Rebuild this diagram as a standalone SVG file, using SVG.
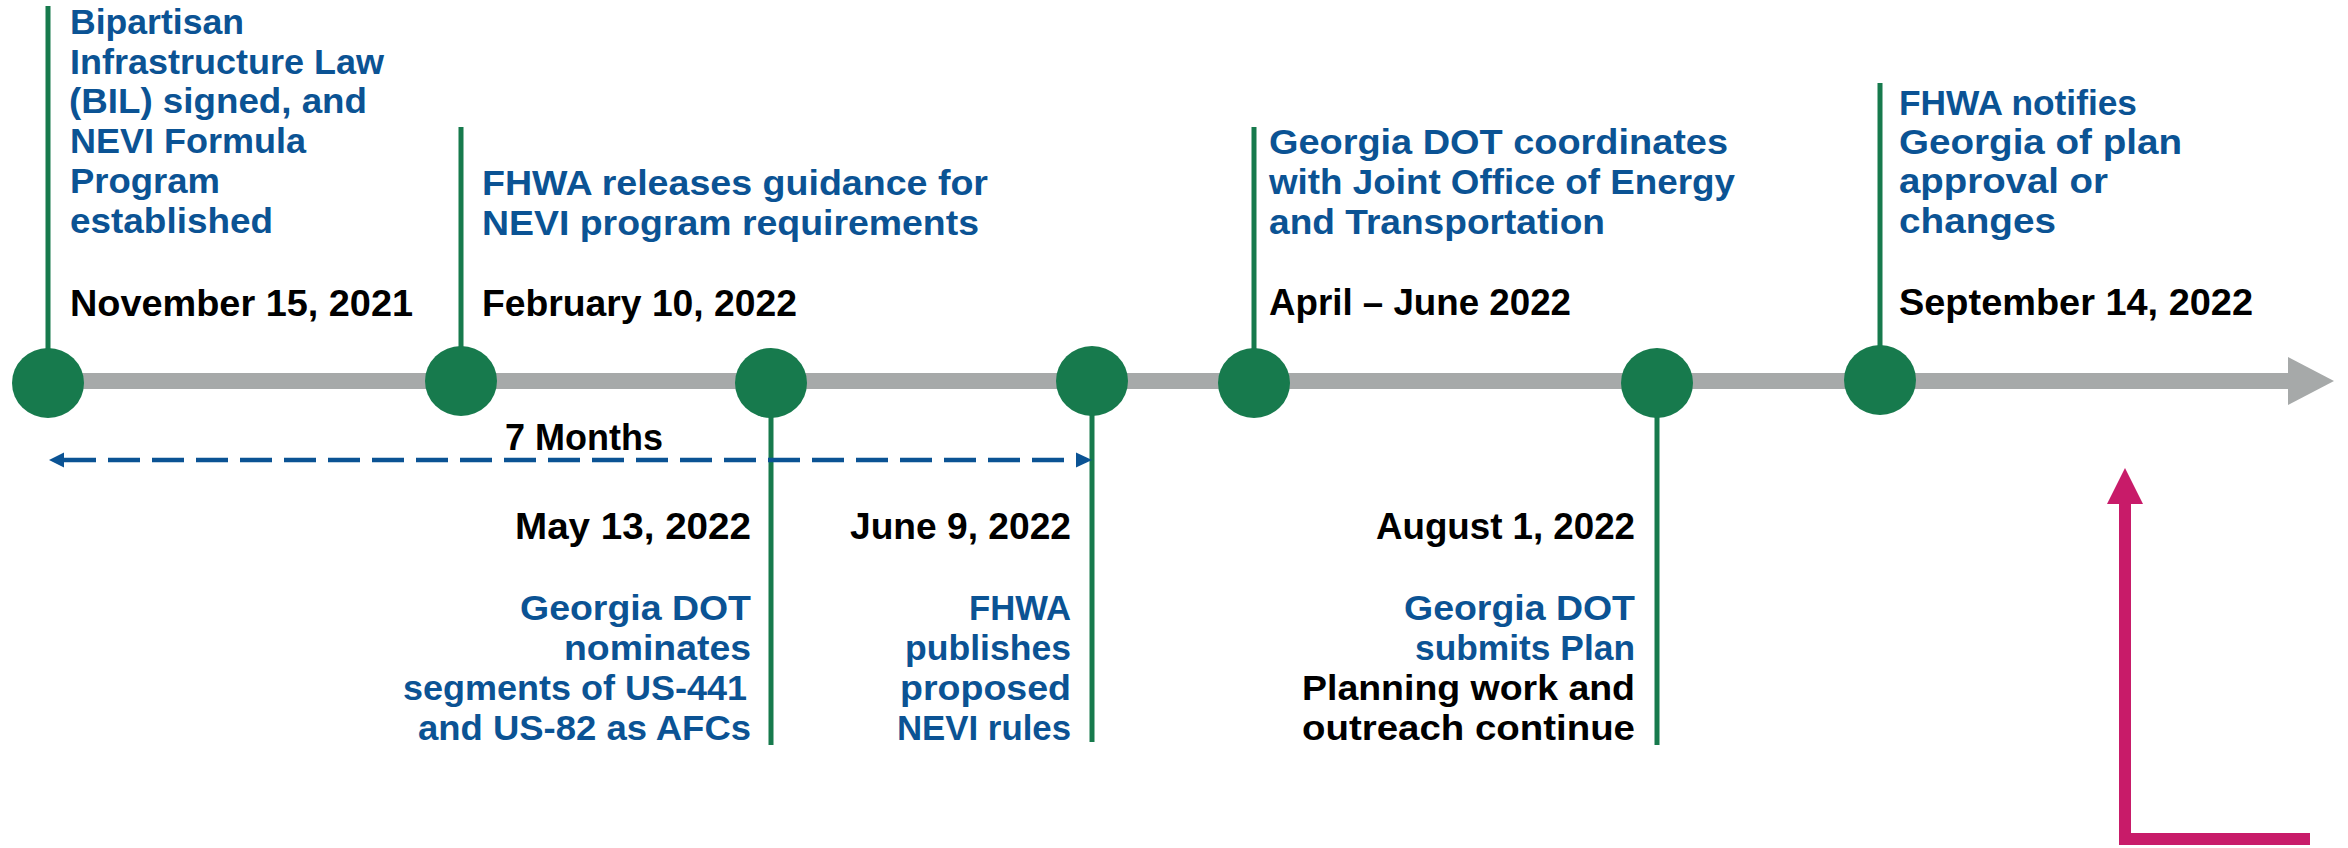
<svg xmlns="http://www.w3.org/2000/svg" width="2348" height="848" viewBox="0 0 2348 848">
<defs>
<style>
.t{font-family:"Liberation Sans",Arial,sans-serif;font-weight:bold;font-size:35px;fill:#0B5394}
.d{font-family:"Liberation Sans",Arial,sans-serif;font-weight:bold;font-size:37px;fill:#000}
.k{fill:#000}
.e{text-anchor:end}
.stem{stroke:#177A4D;stroke-width:5;fill:none}
.node{fill:#177A4D}
</style>
</defs>
<rect width="2348" height="848" fill="#fff"/>
<g id="connectors">
<rect x="48" y="373" width="2242" height="16" fill="#A6A9A9"/>
<polygon points="2288,357 2334,381 2288,405" fill="#A6A9A9"/>
<line class="stem" x1="48" y1="6" x2="48" y2="383"/>
<line class="stem" x1="461" y1="127" x2="461" y2="381"/>
<line class="stem" x1="771" y1="383" x2="771" y2="745"/>
<line class="stem" x1="1092" y1="381" x2="1092" y2="742"/>
<line class="stem" x1="1254" y1="127" x2="1254" y2="383"/>
<line class="stem" x1="1657" y1="383" x2="1657" y2="745"/>
<line class="stem" x1="1880" y1="83" x2="1880" y2="380"/>
<line x1="64" y1="460" x2="1078" y2="460" stroke="#0B5394" stroke-width="4.5" stroke-dasharray="32 12"/>
<polygon points="49,460 64,452.5 64,467.5" fill="#0B5394"/>
<polygon points="1092,460 1076,452.5 1076,467.5" fill="#0B5394"/>
<polyline points="2125,500 2125,839 2310,839" fill="none" stroke="#C81B69" stroke-width="12"/>
<polygon points="2125,468 2143,504 2107,504" fill="#C81B69"/>
</g>
<text class="d" x="505" y="450" textLength="158" lengthAdjust="spacingAndGlyphs">7 Months</text>
<g id="n1">
<ellipse class="node" cx="48" cy="383" rx="36" ry="35"/>
<text class="t" x="70" y="34" textLength="174" lengthAdjust="spacingAndGlyphs">Bipartisan</text>
<text class="t" x="70" y="74" textLength="314" lengthAdjust="spacingAndGlyphs">Infrastructure Law</text>
<text class="t" x="69" y="113" textLength="298" lengthAdjust="spacingAndGlyphs">(BIL) signed, and</text>
<text class="t" x="70" y="153" textLength="236" lengthAdjust="spacingAndGlyphs">NEVI Formula</text>
<text class="t" x="70" y="193" textLength="150" lengthAdjust="spacingAndGlyphs">Program</text>
<text class="t" x="70" y="233" textLength="203" lengthAdjust="spacingAndGlyphs">established</text>
<text class="d" x="70" y="316" textLength="343" lengthAdjust="spacingAndGlyphs">November 15, 2021</text>
</g>
<g id="n2">
<ellipse class="node" cx="461" cy="381" rx="36" ry="35"/>
<text class="t" x="482" y="195" textLength="506" lengthAdjust="spacingAndGlyphs">FHWA releases guidance for</text>
<text class="t" x="482" y="235" textLength="497" lengthAdjust="spacingAndGlyphs">NEVI program requirements</text>
<text class="d" x="482" y="316" textLength="315" lengthAdjust="spacingAndGlyphs">February 10, 2022</text>
</g>
<g id="n3">
<ellipse class="node" cx="771" cy="383" rx="36" ry="35"/>
<text class="d e" x="751" y="539" textLength="236" lengthAdjust="spacingAndGlyphs">May 13, 2022</text>
<text class="t e" x="751" y="620" textLength="231" lengthAdjust="spacingAndGlyphs">Georgia DOT</text>
<text class="t e" x="751" y="660" textLength="187" lengthAdjust="spacingAndGlyphs">nominates</text>
<text class="t e" x="747" y="700" textLength="344" lengthAdjust="spacingAndGlyphs">segments of US-441</text>
<text class="t e" x="751" y="740" textLength="333" lengthAdjust="spacingAndGlyphs">and US-82 as AFCs</text>
</g>
<g id="n4">
<ellipse class="node" cx="1092" cy="381" rx="36" ry="35"/>
<text class="d e" x="1071" y="539" textLength="221" lengthAdjust="spacingAndGlyphs">June 9, 2022</text>
<text class="t e" x="1071" y="620" textLength="102" lengthAdjust="spacingAndGlyphs">FHWA</text>
<text class="t e" x="1071" y="660" textLength="166" lengthAdjust="spacingAndGlyphs">publishes</text>
<text class="t e" x="1071" y="700" textLength="171" lengthAdjust="spacingAndGlyphs">proposed</text>
<text class="t e" x="1071" y="740" textLength="174" lengthAdjust="spacingAndGlyphs">NEVI rules</text>
</g>
<g id="n5">
<ellipse class="node" cx="1254" cy="383" rx="36" ry="35"/>
<text class="t" x="1269" y="154" textLength="459" lengthAdjust="spacingAndGlyphs">Georgia DOT coordinates</text>
<text class="t" x="1269" y="194" textLength="466" lengthAdjust="spacingAndGlyphs">with Joint Office of Energy</text>
<text class="t" x="1269" y="234" textLength="336" lengthAdjust="spacingAndGlyphs">and Transportation</text>
<text class="d" x="1269" y="315" textLength="302" lengthAdjust="spacingAndGlyphs">April – June 2022</text>
</g>
<g id="n6">
<ellipse class="node" cx="1657" cy="383" rx="36" ry="35"/>
<text class="d e" x="1635" y="539" textLength="259" lengthAdjust="spacingAndGlyphs">August 1, 2022</text>
<text class="t e" x="1635" y="620" textLength="231" lengthAdjust="spacingAndGlyphs">Georgia DOT</text>
<text class="t e" x="1635" y="660" textLength="220" lengthAdjust="spacingAndGlyphs">submits Plan</text>
<text class="t e k" x="1635" y="700" textLength="333" lengthAdjust="spacingAndGlyphs">Planning work and</text>
<text class="t e k" x="1635" y="740" textLength="333" lengthAdjust="spacingAndGlyphs">outreach continue</text>
</g>
<g id="n7">
<ellipse class="node" cx="1880" cy="380" rx="36" ry="35"/>
<text class="t" x="1899" y="115" textLength="238" lengthAdjust="spacingAndGlyphs">FHWA notifies</text>
<text class="t" x="1899" y="154" textLength="283" lengthAdjust="spacingAndGlyphs">Georgia of plan</text>
<text class="t" x="1899" y="193" textLength="209" lengthAdjust="spacingAndGlyphs">approval or</text>
<text class="t" x="1899" y="233" textLength="157" lengthAdjust="spacingAndGlyphs">changes</text>
<text class="d" x="1899" y="315" textLength="354" lengthAdjust="spacingAndGlyphs">September 14, 2022</text>
</g>
</svg>
